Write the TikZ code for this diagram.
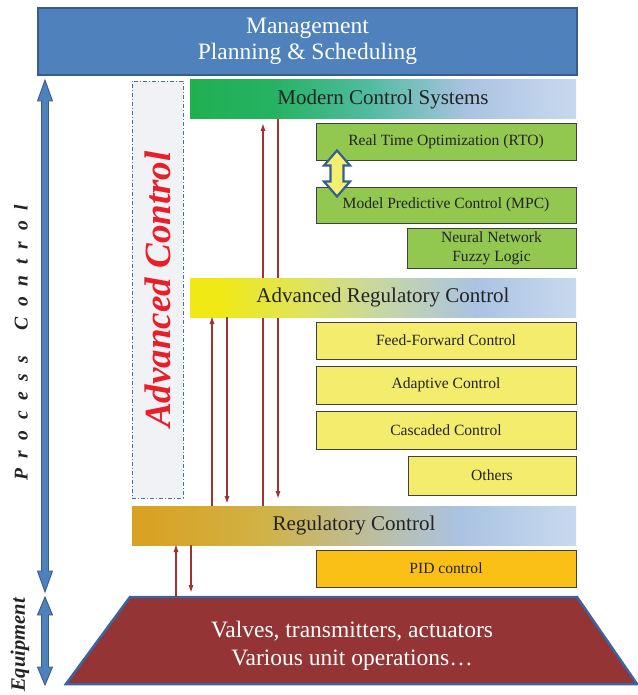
\documentclass[tikz,border=0pt]{standalone}
\usepackage{fontspec}
\setmainfont{Liberation Serif}
\usepackage{tikz}
\usetikzlibrary{arrows.meta,calc}

\definecolor{mgmtblue}{RGB}{79,129,189}
\definecolor{mgmtedge}{RGB}{56,93,138}
\definecolor{inktext}{RGB}{35,35,35}
\definecolor{barsky}{RGB}{170,195,226}
\definecolor{barpale}{RGB}{200,217,238}
\definecolor{mcsgreen}{RGB}{32,176,80}
\definecolor{mcsgreenb}{RGB}{38,178,100}
\definecolor{mcsteal}{RGB}{80,187,160}
\definecolor{arcyellow}{RGB}{240,233,22}
\definecolor{arclime}{RGB}{222,228,95}
\definecolor{arcsage}{RGB}{198,214,165}
\definecolor{regamber}{RGB}{216,163,36}
\definecolor{regochre}{RGB}{208,178,70}
\definecolor{regkhaki}{RGB}{188,190,160}
\definecolor{boxgreen}{RGB}{146,200,80}
\definecolor{boxyellow}{RGB}{244,236,108}
\definecolor{pidgold}{RGB}{251,192,22}
\definecolor{equipred}{RGB}{148,52,52}
\definecolor{equipedge}{RGB}{59,100,160}
\definecolor{acgray}{RGB}{241,242,245}
\definecolor{acedge}{RGB}{70,112,165}
\definecolor{acred}{RGB}{232,30,40}
\definecolor{linkred}{RGB}{160,52,52}
\definecolor{dblyellow}{RGB}{246,238,110}
\definecolor{dbledge}{RGB}{55,95,145}

% left to right fades of the three level bars
\pgfdeclarehorizontalshading{mcsfade}{100bp}{color(0bp)=(mcsgreen); color(25bp)=(mcsgreen);
  color(36bp)=(mcsgreenb); color(48bp)=(mcsteal); color(61bp)=(barsky);
  color(75bp)=(barpale); color(100bp)=(barpale)}
\pgfdeclarehorizontalshading{arcfade}{100bp}{color(0bp)=(arcyellow); color(29bp)=(arcyellow);
  color(40bp)=(arclime); color(50bp)=(arcsage); color(62bp)=(barsky);
  color(75bp)=(barpale); color(100bp)=(barpale)}
\pgfdeclarehorizontalshading{regfade}{100bp}{color(0bp)=(regamber); color(27bp)=(regamber);
  color(40bp)=(regochre); color(52bp)=(regkhaki); color(62bp)=(barsky);
  color(75bp)=(barpale); color(100bp)=(barpale)}

% gap between the spread out letters of the side label
\newcommand\pcgap{\kern10.5pt}

\begin{document}
\begin{tikzpicture}[x=1pt,y=-1pt,>={Triangle[length=7pt,width=4.5pt]},line join=miter]
\tikzstyle{bar}=[anchor=north west,inner sep=0pt,outer sep=0pt,minimum width=386pt,minimum height=39pt,
  text=inktext,font=\fontsize{21}{24}\selectfont,shade]
\tikzstyle{item}=[anchor=north west,draw=black!75,line width=0.9pt,inner sep=0pt,outer sep=0pt,
  minimum width=260pt,minimum height=37pt,text=inktext,align=center,font=\fontsize{15.6}{19}\selectfont]
\tikzstyle{link}=[draw=linkred,line width=1.2pt]
\tikzstyle{bigarrow}=[fill=mgmtblue,draw=mgmtedge,line width=0.9pt]
\useasboundingbox (0,0) rectangle (637,695);

% top level
\node[anchor=north west,fill=mgmtblue,draw=mgmtedge,line width=1.8pt,outer sep=0pt,
  minimum width=539pt,minimum height=67pt,text=white,align=center,
  font=\fontsize{23.5}{26}\selectfont] (mgmt) at (38,8) {Management\\Planning \& Scheduling};

% advanced control band
\node[anchor=north west,fill=acgray,draw=acedge,line width=0.8pt,outer sep=0pt,
  dash pattern=on 4pt off 2pt on 1pt off 2pt,minimum width=51pt,minimum height=417pt] (acbox) at (132,81) {};
\node[rotate=90,text=acred,font=\fontsize{37}{37}\selectfont\bfseries\itshape] (aclabel) at (acbox.center) {Advanced Control};

% process control / equipment axis
\draw[bigarrow] (45,80) -- (52.5,101) -- (48.5,101) -- (48.5,571) -- (52.5,571) -- (45,592)
  -- (37.5,571) -- (41.5,571) -- (41.5,101) -- (37.5,101) -- cycle;
\draw[bigarrow] (45,597) -- (52.5,615) -- (48.5,615) -- (48.5,667) -- (52.5,667) -- (45,685)
  -- (37.5,667) -- (41.5,667) -- (41.5,615) -- (37.5,615) -- cycle;
\node[rotate=90,text=inktext,font=\fontsize{19.5}{19.5}\selectfont\bfseries\itshape] (pclabel) at (21,343)
  {P\pcgap r\pcgap o\pcgap c\pcgap e\pcgap s\pcgap s\pcgap\ \pcgap C\pcgap o\pcgap n\pcgap t\pcgap r\pcgap o\pcgap l};
\node[rotate=90,text=inktext,font=\fontsize{20.5}{20.5}\selectfont\bfseries\itshape] (eqlabel) at (20,645) {Equipment};

% level bars
\node[bar,shading=mcsfade] (mcs) at (190,80) {Modern Control Systems};
\node[bar,shading=regfade,minimum width=444pt] (reg) at (132,506) {Regulatory Control};

% long links between modern and regulatory level
\coordinate (up2) at (263,0);
\coordinate (dn2) at (278,0);
\draw[link,->,shorten >=5pt] (up2 |- reg.north) -- (up2 |- mcs.south);
\draw[link,->,shorten >=8pt] (dn2 |- mcs.south) -- (dn2 |- reg.north);

\node[bar,shading=arcfade] (arc) at (190,278) {Advanced Regulatory Control};

% modern control techniques
\node[item,fill=boxgreen] (rto) at (316,123) {Real Time Optimization (RTO)};
\node[item,fill=boxgreen,minimum height=36pt] (mpc) at (316,187) {Model Predictive Control (MPC)};
\node[item,fill=boxgreen,minimum width=169pt,minimum height=40pt] (nn) at (407,228) {Neural Network\\Fuzzy Logic};

% rto <-> mpc
\coordinate (dblc) at (337,173.5);
\draw[fill=dblyellow,draw=dbledge,line width=2.2pt]
  ($(dblc)+(0,-23)$) -- ++(13,15) -- ++(-6.5,0) -- ++(0,16) -- ++(6.5,0) -- ++(-13,15)
  -- ++(-13,-15) -- ++(6.5,0) -- ++(0,-16) -- ++(-6.5,0) -- cycle;

% advanced regulatory techniques
\node[item,fill=boxyellow] (ff) at (316,322) {Feed-Forward Control};
\node[item,fill=boxyellow,minimum height=38pt] (adapt) at (316,366) {Adaptive Control};
\node[item,fill=boxyellow,minimum height=38pt] (casc) at (316,411) {Cascaded Control};
\node[item,fill=boxyellow,minimum width=168pt,minimum height=39pt] (others) at (408,456) {Others};

\node[item,fill=pidgold] (pid) at (316,550) {PID control};

% field equipment
\coordinate (eqtl) at (130,597);
\coordinate (eqtr) at (577,597);
\coordinate (eqbr) at (637,684);
\coordinate (eqbl) at (66,684);
\draw[fill=equipred,draw=equipedge,line width=2.5pt] (eqtl) -- (eqtr) -- (eqbr) -- (eqbl) -- cycle;
\node[text=white,align=center,font=\fontsize{23.5}{28}\selectfont] (equip) at (352,646)
  {Valves, transmitters, actuators\\Various unit operations\dots};

% short links
\coordinate (up1) at (212,0);
\coordinate (dn1) at (227,0);
\coordinate (up3) at (176,0);
\coordinate (dn3) at (191,0);
\draw[link,->] (up1 |- reg.north) -- (up1 |- arc.south);
\draw[link,->,shorten >=3pt] (dn1 |- arc.south) -- (dn1 |- reg.north);
\draw[link,->] (up3 |- eqtl) -- (up3 |- reg.south);
\draw[link,->,shorten >=5pt] (dn3 |- reg.south) -- (dn3 |- eqtl);
\end{tikzpicture}
\end{document}
